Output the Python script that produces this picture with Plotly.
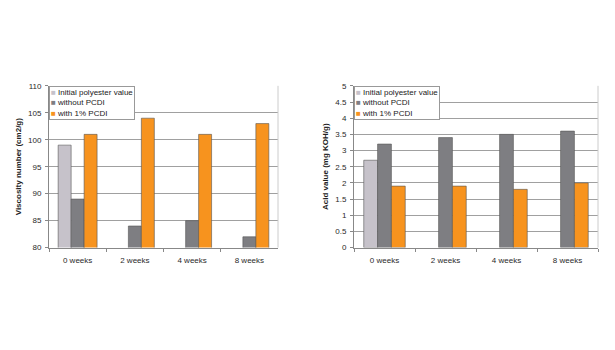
import plotly.graph_objects as go

categories = ["0 weeks", "2 weeks", "4 weeks", "8 weeks"]
series_names = ["Initial polyester value", "without PCDI", "with 1% PCDI"]

visc_initial = [99, None, None, None]
visc_without = [89, 84, 85, 82]
visc_with = [101, 104, 101, 103]

acid_initial = [2.7, None, None, None]
acid_without = [3.2, 3.4, 3.5, 3.6]
acid_with = [1.9, 1.9, 1.8, 2.0]

colors = ["#c6c2ca", "#7e7e82", "#f7931e"]

W, H = 615, 350
fig = go.Figure()


def px_x(v):
    return v / W


def px_y(v):
    return 1 - v / H


left_dom = [px_x(49), px_x(278)]
right_dom = [px_x(354), px_x(598)]
y_dom = [px_y(250), px_y(84)]

FAM = "Liberation Sans, Arial, sans-serif"
font = dict(family=FAM, size=8, color="#2a2a2a")

for vals, name, col in zip([visc_initial, visc_without, visc_with], series_names, colors):
    fig.add_trace(go.Bar(x=categories, y=vals, name=name, showlegend=False,
                         marker=dict(color=col, line=dict(color="#555555", width=0.6)),
                         xaxis="x", yaxis="y"))
for vals, name, col in zip([acid_initial, acid_without, acid_with], series_names, colors):
    fig.add_trace(go.Bar(x=categories, y=vals, name=name, showlegend=False,
                         marker=dict(color=col, line=dict(color="#555555", width=0.6)),
                         xaxis="x2", yaxis="y2"))

axis_common_x = dict(showgrid=False, showline=True, linecolor="#888888", linewidth=1,
                     ticks="outside", tickson="boundaries", ticklen=3, tickcolor="#888888",
                     tickfont=font, ticklabelstandoff=5)
axis_common_y = dict(showgrid=True, gridcolor="#a0a0a0", gridwidth=1, showline=True, linecolor="#888888",
                     linewidth=1, ticks="outside", ticklen=3, tickcolor="#888888", tickfont=font,
                     zeroline=False, ticklabelstandoff=2)

title_font = dict(family=FAM, size=8, color="#222222")

legend_text = "<br>".join(
    f"<span style='color:{c}'>■</span> {n}" for n, c in zip(series_names, colors)
)

legend_ann = dict(text=legend_text, showarrow=False, align="left", xanchor="left", yanchor="top",
                  bgcolor="white", bordercolor="#999999", borderwidth=1, borderpad=1,
                  font=dict(family=FAM, size=8, color="#222222"), xref="paper", yref="paper")

fig.update_layout(
    width=W, height=H,
    margin=dict(l=0, r=0, t=0, b=0),
    paper_bgcolor="white", plot_bgcolor="white",
    barmode="group", bargap=0.32, bargroupgap=0,
    showlegend=False,
    xaxis=dict(domain=left_dom, anchor="y", **axis_common_x),
    yaxis=dict(domain=y_dom, anchor="x", range=[80, 110], dtick=5,
               title=dict(text="<b>Viscosity number (cm2/g)</b>", font=title_font, standoff=5),
               **axis_common_y),
    xaxis2=dict(domain=right_dom, anchor="y2", **axis_common_x),
    yaxis2=dict(domain=y_dom, anchor="x2", range=[0, 5], dtick=0.5,
                title=dict(text="<b>Acid value (mg KOH/g)</b>", font=title_font, standoff=5),
                **axis_common_y),
    annotations=[
        dict(x=left_dom[0], y=y_dom[1], **legend_ann),
        dict(x=right_dom[0], y=y_dom[1], **legend_ann),
    ],
    shapes=[
        dict(type="line", xref="x domain", yref="y domain", x0=1, x1=1, y0=0, y1=1,
             line=dict(color="#cccccc", width=1)),
        dict(type="line", xref="x2 domain", yref="y2 domain", x0=1, x1=1, y0=0, y1=1,
             line=dict(color="#cccccc", width=1)),
    ],
)

fig.write_html("out.html")
